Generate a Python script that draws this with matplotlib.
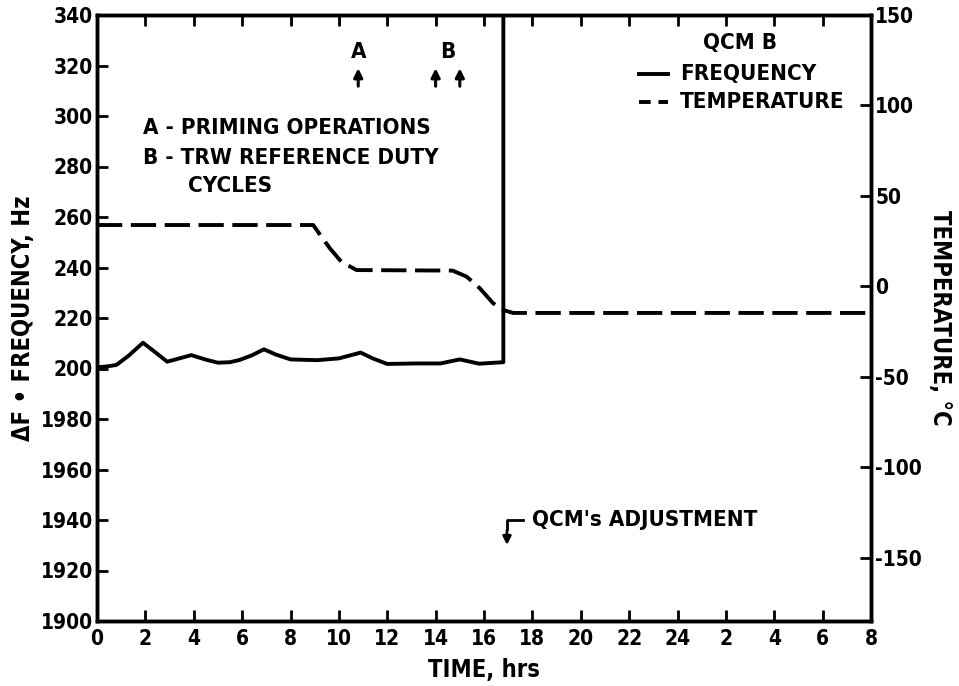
import matplotlib
matplotlib.use("Agg")
import matplotlib.pyplot as plt

# ---- data ----
freq_ticks = [1900, 1920, 1940, 1960, 1980, 2000, 2020, 2040, 2060, 2080, 2100, 2120, 2140]
freq_tick_labels = ["1900", "1920", "1940", "1960", "1980", "200", "220", "240", "260", "280", "300", "320", "340"]
time_ticks = [0, 2, 4, 6, 8, 10, 12, 14, 16, 18, 20, 22, 24, 26, 28, 30, 32]
time_tick_labels = ["0", "2", "4", "6", "8", "10", "12", "14", "16", "18", "20", "22", "24", "2", "4", "6", "8"]
temp_ticks = [-150, -100, -50, 0, 50, 100, 150]

time_freq = [0, 0.4, 0.8, 1.3, 1.9, 2.4, 2.9, 3.4, 3.9, 4.5, 5.0, 5.5, 5.9, 6.4, 6.9, 7.4, 8.0, 9.1, 10.0, 10.9, 11.4, 12.0, 13.2, 14.2, 14.6, 15.0, 15.8, 16.8, 16.8]
freq = [2000.5, 2000.8, 2001.4, 2005.0, 2010.2, 2006.5, 2002.7, 2004.0, 2005.3, 2003.5, 2002.3, 2002.5, 2003.4, 2005.2, 2007.6, 2005.5, 2003.6, 2003.3, 2004.0, 2006.3, 2004.0, 2001.8, 2002.0, 2002.0, 2002.8, 2003.6, 2001.9, 2002.5, 2170]

time_temp = [0, 8.94, 9.28, 9.63, 10.1, 10.73, 14.7, 15.28, 15.83, 16.38, 16.8, 17.2, 32]
temp = [33.9, 33.9, 27.4, 21.0, 13.6, 9.0, 8.7, 5.4, -1.1, -9.4, -13.1, -14.7, -14.7]

# ---- style ----
plt.rcParams['font.family'] = ['DejaVu Sans']
plt.rcParams['font.weight'] = 'bold'
plt.rcParams['font.stretch'] = 'condensed'
FS = 15
TS = 16

fig = plt.figure(figsize=(9.59, 6.86), dpi=100)
ax = fig.add_axes([97/959, 1-621/686, 774/959, 606/686])
ax2 = ax.twinx()

ax.plot(time_freq, freq, color='black', lw=2.8, solid_joinstyle='round', clip_on=True)
ax2.plot(time_temp, temp, color='black', lw=2.8, dashes=(6.5, 2.2))

ax.set_xlim(0, 32)
ax.set_ylim(1900, 2140)
ax2.set_ylim(-185, 150)

ax.set_xticks(time_ticks)
ax.set_xticklabels(time_tick_labels, fontsize=FS, fontweight='bold')
ax.set_yticks(freq_ticks)
ax.set_yticklabels(freq_tick_labels, fontsize=FS, fontweight='bold')
ax2.set_yticks(temp_ticks)
ax2.set_yticklabels([str(t) for t in temp_ticks], fontsize=FS, fontweight='bold')

ax.tick_params(axis='x', direction='in', length=8, width=2, top=True, pad=6)
ax.tick_params(axis='y', direction='in', length=8, width=2, pad=3)
ax2.tick_params(axis='y', direction='in', length=8, width=2, pad=3)

for a in (ax, ax2):
    for s in a.spines.values():
        s.set_linewidth(2.5)

ax.set_xlabel("TIME, hrs", fontsize=17, fontweight='bold', labelpad=6)
ax.set_ylabel("ΔF • FREQUENCY, Hz", fontsize=17, fontweight='bold', labelpad=4)
ax2.set_ylabel("TEMPERATURE, °C", fontsize=17, fontweight='bold', rotation=-90, labelpad=22)

# annotations
ax.text(10.8, 2125.3, "A", ha='center', va='center', fontsize=TS, fontweight='bold')
ax.text(14.5, 2125.3, "B", ha='center', va='center', fontsize=TS, fontweight='bold')
for xa in (10.8, 14.0, 15.0):
    ax.annotate("", xy=(xa, 2120), xytext=(xa, 2110.7),
                arrowprops=dict(arrowstyle='-|>', color='black', lw=2.2, mutation_scale=13))

ax.text(1.9, 2095.2, "A - PRIMING OPERATIONS", fontsize=TS, fontweight='bold', va='center')
ax.text(1.9, 2083.4, "B - TRW REFERENCE DUTY", fontsize=TS, fontweight='bold', va='center')
ax.text(3.75, 2072.3, "CYCLES", fontsize=TS, fontweight='bold', va='center')

ax.text(26.6, 2129, "QCM B", fontsize=TS, fontweight='bold', va='center', ha='center')
ax.plot([22.4, 23.6], [2116.5, 2116.5], color='black', lw=2.8)
ax.plot([22.4, 23.6], [2105.5, 2105.5], color='black', lw=2.8, dashes=(3, 2))
ax.text(24.1, 2116.5, "FREQUENCY", fontsize=TS, fontweight='bold', va='center')
ax.text(24.1, 2105.5, "TEMPERATURE", fontsize=TS, fontweight='bold', va='center')

ax.text(18.0, 1940, "QCM's ADJUSTMENT", fontsize=TS, fontweight='bold', va='center')
ax.plot([17.6, 16.95, 16.95], [1940, 1940, 1936.5], color='black', lw=2)
ax.annotate("", xy=(16.95, 1929), xytext=(16.95, 1937),
            arrowprops=dict(arrowstyle='-|>', color='black', lw=2, mutation_scale=12))

fig.savefig("out.png", dpi=100)
